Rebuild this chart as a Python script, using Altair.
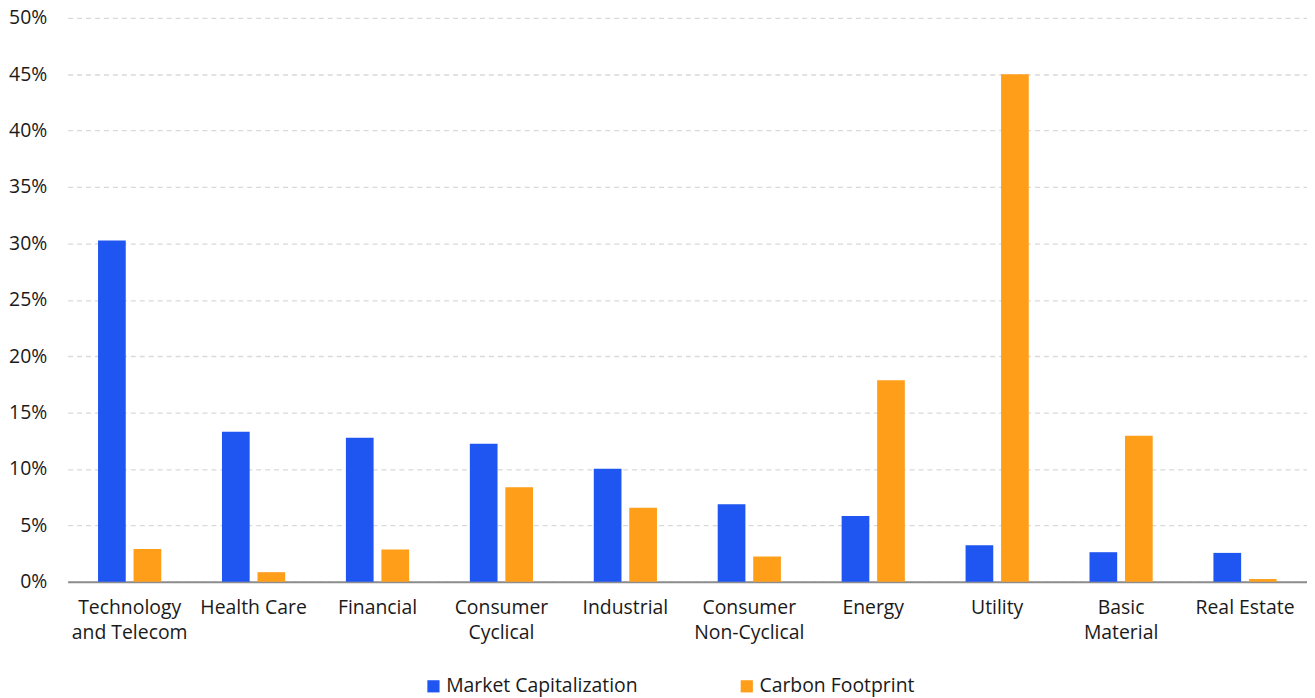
import altair as alt
import pandas as pd

categories = [
    "Technology\nand Telecom", "Health Care", "Financial", "Consumer\nCyclical",
    "Industrial", "Consumer\nNon-Cyclical", "Energy", "Utility",
    "Basic\nMaterial", "Real Estate",
]
market_cap = [30.25, 13.3, 12.76, 12.24, 10.03, 6.88, 5.83, 3.24, 2.62, 2.56]
carbon = [2.9, 0.85, 2.85, 8.38, 6.56, 2.24, 17.86, 45.0, 12.95, 0.24]
series = ["Market Capitalization", "Carbon Footprint"]
colors = ["#1F55F1", "#FF9E18"]
y_ticks = [0, 5, 10, 15, 20, 25, 30, 35, 40, 45, 50]

rows = []
for c, m, k in zip(categories, market_cap, carbon):
    rows.append({"category": c, "series": series[0], "value": m})
    rows.append({"category": c, "series": series[1], "value": k})
df = pd.DataFrame(rows)

FONT = "Open Sans"
FS = 19.5

chart = alt.Chart(df).mark_bar().encode(
    x=alt.X("category:N", sort=categories, title=None,
            scale=alt.Scale(paddingInner=0.49, paddingOuter=0.245),
            axis=alt.Axis(labelAngle=0, labelExpr="split(datum.label, '\\n')",
                          ticks=False, domain=True, domainColor="#8c8c8c",
                          domainWidth=2, labelPadding=17, labelFontSize=FS,
                          labelLineHeight=25, labelColor="#1a1a1a",
                          labelFont=FONT, grid=False, labelLimit=300)),
    xOffset=alt.XOffset("series:N", sort=series,
                        scale=alt.Scale(paddingInner=0.22, paddingOuter=0)),
    y=alt.Y("value:Q", title=None,
            scale=alt.Scale(domain=[0, 50], nice=False),
            axis=alt.Axis(values=y_ticks, labelExpr="datum.value + '%'",
                          ticks=False, domain=False, grid=True,
                          gridColor="#d9d9d9", gridDash=[5, 4], gridWidth=1.3,
                          labelPadding=21, labelFontSize=FS, labelColor="#1a1a1a",
                          labelFont=FONT)),
    color=alt.Color("series:N", sort=series,
                    scale=alt.Scale(domain=series, range=colors),
                    legend=alt.Legend(title=None, orient="none", direction="horizontal",
                                      legendX=358, legendY=662,
                                      symbolType="square", symbolSize=150,
                                      symbolStrokeWidth=0, labelOffset=3,
                                      columnPadding=99, labelFontSize=FS,
                                      labelFont=FONT, labelColor="#1a1a1a",
                                      labelLimit=400)),
).properties(
    width=1246, height=567,
    autosize=alt.AutoSizeParams(type="none"),
    padding={"left": 60, "top": 8, "right": 0, "bottom": 114},
).configure_view(stroke=None)

chart.save("out.html", embed_options={"renderer": "svg", "actions": False})
